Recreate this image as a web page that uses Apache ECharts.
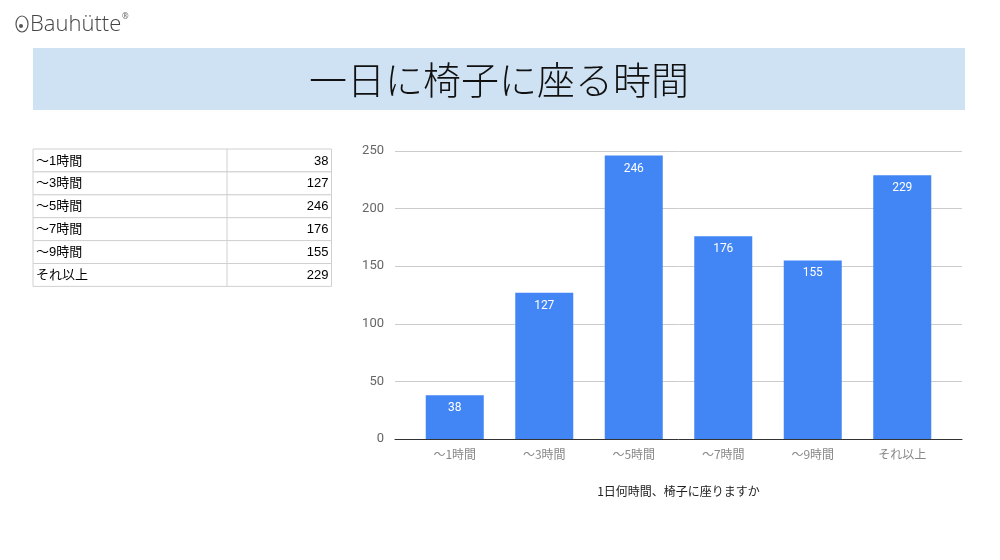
<!DOCTYPE html>
<html>
<head>
<meta charset="utf-8">
<script src="https://cdn.jsdelivr.net/npm/echarts@6/dist/echarts.min.js"></script>
<style>
html,body{margin:0;padding:0;background:#fff;}
#main{width:1000px;height:560px;}
</style>
</head>
<body>
<div id="main"></div>
<script>
const categories = ['～1時間', '～3時間', '～5時間', '～7時間', '～9時間', 'それ以上'];
const values = [38, 127, 246, 176, 155, 229];
const yTicks = [0, 50, 100, 150, 200, 250];
const chartTitle = '一日に椅子に座る時間';
const xAxisTitle = '1日何時間、椅子に座りますか';
const brand = 'Bauhütte';

const chart = echarts.init(document.getElementById('main'));

// table built from the data arrays
const tbl = { x: 33, y: 149, w: 298.5, rowH: 22.9, colX: 227 };
const tableEls = [];
categories.forEach((c, i) => {
  const y = tbl.y + i * tbl.rowH;
  tableEls.push({ type: 'rect', shape: { x: tbl.x, y: y, width: tbl.w, height: tbl.rowH },
    style: { fill: '#fff', stroke: '#d0d0d0', lineWidth: 1 } });
  tableEls.push({ type: 'text', x: tbl.x + 3, y: y + tbl.rowH / 2 + 0.5,
    style: { text: c, fill: '#000', font: '13px "Liberation Sans", "Noto Sans CJK JP", sans-serif', textVerticalAlign: 'middle' } });
  tableEls.push({ type: 'text', x: tbl.x + tbl.w - 3, y: y + tbl.rowH / 2 + 0.5,
    style: { text: String(values[i]), fill: '#000', font: '13px "Liberation Sans", sans-serif', textAlign: 'right', textVerticalAlign: 'middle' } });
});
tableEls.push({ type: 'line', shape: { x1: tbl.colX, y1: tbl.y, x2: tbl.colX, y2: tbl.y + tbl.rowH * categories.length },
  style: { stroke: '#d0d0d0', lineWidth: 1 } });

const option = {
  animation: false,
  backgroundColor: '#fff',
  graphic: [
    // title band
    { type: 'rect', shape: { x: 33, y: 48, width: 932, height: 62 }, style: { fill: '#cfe2f3' } },
    { type: 'text', x: 499, y: 80, style: { text: chartTitle, fill: '#111',
        font: '300 38px "Noto Sans CJK JP", sans-serif', textAlign: 'center', textVerticalAlign: 'middle' } },
    // logo
    { type: 'ellipse', shape: { cx: 22, cy: 24, rx: 6, ry: 8 }, style: { fill: 'none', stroke: '#555', lineWidth: 1.2 } },
    { type: 'circle', shape: { cx: 21, cy: 26, r: 2 }, style: { fill: '#555' } },
    { type: 'text', x: 30, y: 25, style: { text: brand, fill: '#444',
        font: '300 22px "Open Sans", "Noto Sans", sans-serif', textVerticalAlign: 'middle' } },
    { type: 'text', x: 122, y: 17, style: { text: '®', fill: '#666',
        font: '8px "Noto Sans", sans-serif', textVerticalAlign: 'middle' } },
    { type: 'group', children: tableEls }
  ],
  grid: [
    { left: 395, right: 38, top: 151, bottom: 121 },
    { left: 410, right: 53, top: 151, bottom: 121 }
  ],
  xAxis: [
    { type: 'value', gridIndex: 0, min: 0, max: 1, splitLine: { show: false },
      axisLabel: { show: false }, axisTick: { show: false },
      axisLine: { show: true, lineStyle: { color: '#333', width: 1 } },
      name: xAxisTitle, nameLocation: 'middle', nameGap: 46,
      nameTextStyle: { color: '#222', fontSize: 12, fontFamily: '"Noto Sans CJK JP", sans-serif' } },
    { type: 'category', gridIndex: 1, data: categories,
      axisLine: { show: false }, axisTick: { show: false },
      axisLabel: { color: '#888', fontSize: 12, margin: 9, fontFamily: '"Noto Sans CJK JP", sans-serif' } }
  ],
  yAxis: [
    { type: 'value', gridIndex: 0, min: yTicks[0], max: yTicks[yTicks.length - 1], interval: 50,
      axisLine: { show: false }, axisTick: { show: false },
      axisLabel: { color: '#666', fontSize: 13, margin: 11, fontFamily: 'Roboto, sans-serif' },
      splitLine: { lineStyle: { color: '#cccccc', width: 1 } } },
    { type: 'value', gridIndex: 1, min: yTicks[0], max: yTicks[yTicks.length - 1], interval: 50,
      show: false, splitLine: { show: false } }
  ],
  series: [{
    type: 'bar', xAxisIndex: 1, yAxisIndex: 1, data: values, barWidth: 58,
    itemStyle: { color: '#4285f4' },
    label: { show: true, position: 'insideTop', distance: 7, color: '#fff', fontSize: 12, fontFamily: 'Roboto, sans-serif' }
  }]
};
chart.setOption(option);
</script>
</body>
</html>
